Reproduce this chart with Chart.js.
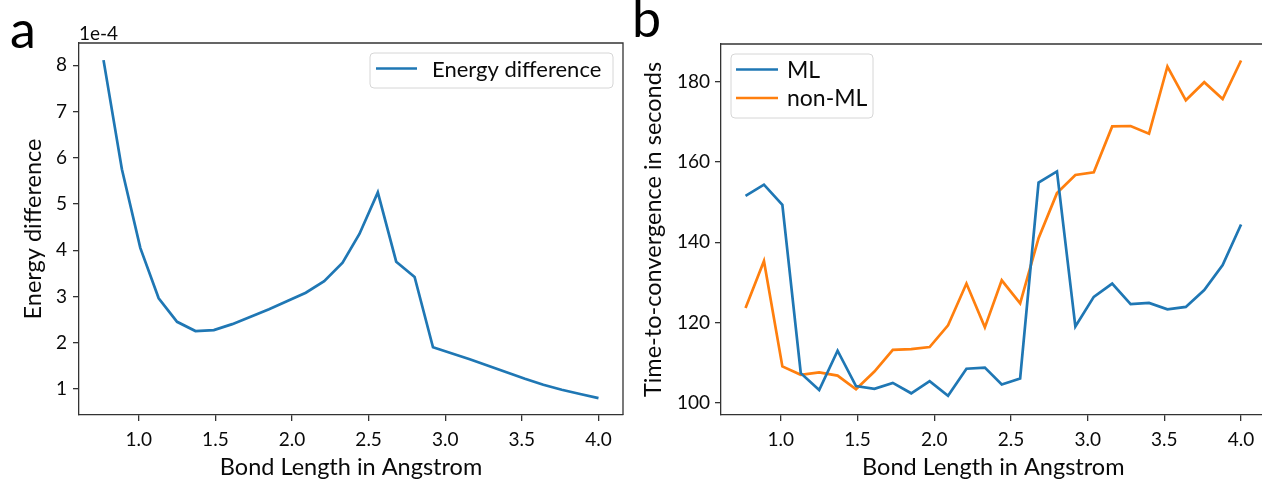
<!DOCTYPE html>
<html>
<head>
<meta charset="utf-8">
<script src="https://cdn.jsdelivr.net/npm/chart.js@4.4.1/dist/chart.umd.min.js"></script>
<style>
    body { margin: 0; width: 1262px; height: 482px; overflow: hidden; background: #fff; position: relative; }
    canvas { position: absolute; top: 0; }
    #chartA { left: 0; }
    #chartB { left: 630px; }
</style>
</head>
<body>
<canvas id="chartA" width="630" height="482"></canvas>
<canvas id="chartB" width="640" height="482"></canvas>
<script>
// bond lengths (Angstrom), shared by both panels
const bondLength = [0.77, 0.89, 1.01, 1.13, 1.25, 1.37, 1.49, 1.61, 1.73, 1.85, 1.97, 2.09, 2.21, 2.33,
    2.44, 2.56, 2.68, 2.80, 2.92, 3.04, 3.16, 3.28, 3.40, 3.52, 3.64, 3.76, 3.88, 4.00];

// panel a: energy difference, in units of 1e-4
const energyDiff = [8.11, 5.75, 4.05, 2.96, 2.45, 2.25, 2.27, 2.40, 2.56, 2.72, 2.90, 3.08, 3.33, 3.73,
    4.35, 5.25, 3.75, 3.42, 1.90, 1.77, 1.64, 1.50, 1.36, 1.22, 1.09, 0.98, 0.89, 0.80];

// panel b: time to convergence in seconds
const mlTime = [151.5, 154.3, 149.3, 107.4, 103.2, 113.0, 104.2, 103.5, 105.0, 102.4, 105.4, 101.8, 108.5, 108.8,
    104.6, 106.1, 154.8, 157.6, 119.0, 126.4, 129.7, 124.6, 124.9, 123.3, 123.9, 128.1, 134.3, 144.4];
const nonMlTime = [123.6, 135.3, 109.1, 107.0, 107.6, 106.8, 103.4, 107.8, 113.2, 113.4, 113.9, 119.3, 129.7, 118.8,
    130.5, 124.8, 141.0, 152.2, 156.7, 157.4, 168.8, 168.9, 167.0, 183.7, 175.3, 179.8, 175.6, 185.2];

const xTicks = [1.0, 1.5, 2.0, 2.5, 3.0, 3.5, 4.0];
const energyTicks = [1, 2, 3, 4, 5, 6, 7, 8];
const timeTicks = [100, 120, 140, 160, 180];

const BLUE = '#1f77b4';
const ORANGE = '#ff7f0e';
const SPINE = '#333333';
const TEXT = '#0a0a0a';
const FONT = 'Lato';

function toPoints(values) {
    return bondLength.map(function(x, i) { return {x: x, y: values[i]}; });
}

function fixedTicks(list) {
    return function(scale) {
        scale.ticks = list.map(function(v) { return {value: v}; });
    };
}

function xScale() {
    return {
        type: 'linear',
        min: 0.61,
        max: 4.16,
        afterBuildTicks: fixedTicks(xTicks),
        afterFit: function(scale) { scale.height = 67; },
        grid: { drawOnChartArea: false, drawTicks: true, tickLength: 6, color: SPINE, lineWidth: 1.3 },
        border: { display: true, color: SPINE, width: 1.3 },
        ticks: {
            color: TEXT, padding: 7, maxRotation: 0,
            font: { family: FONT, size: 19 },
            callback: function(v) { return v.toFixed(1); }
        },
        title: {
            display: true, text: 'Bond Length in Angstrom', color: TEXT,
            font: { family: FONT, size: 23.5 }, padding: { top: 0, bottom: 0 }
        }
    };
}

// spines on top/right, legend box in the axes, panel letter
function decorPlugin(cfg) {
    return {
        id: 'decor',
        afterDraw: function(chart) {
            let ctx = chart.ctx;
            let a = chart.chartArea;
            ctx.save();
            ctx.strokeStyle = SPINE;
            ctx.lineWidth = 1.3;
            ctx.beginPath();
            ctx.moveTo(a.left, a.top);
            ctx.lineTo(a.right, a.top);
            ctx.lineTo(a.right, a.bottom);
            ctx.stroke();

            // legend
            let b = cfg.legendBox;
            ctx.fillStyle = 'rgba(255,255,255,0.85)';
            ctx.strokeStyle = '#d6d6d6';
            ctx.lineWidth = 1;
            ctx.beginPath();
            ctx.roundRect(b[0], b[1], b[2] - b[0], b[3] - b[1], 4);
            ctx.fill();
            ctx.stroke();
            ctx.font = cfg.legendFont + 'px ' + FONT;
            ctx.textBaseline = 'alphabetic';
            cfg.entries.forEach(function(e) {
                ctx.strokeStyle = e.color;
                ctx.lineWidth = 2.7;
                ctx.beginPath();
                ctx.moveTo(e.x0, e.y);
                ctx.lineTo(e.x1, e.y);
                ctx.stroke();
                ctx.fillStyle = TEXT;
                ctx.fillText(e.label, e.tx, e.ty);
            });

            // panel letter
            ctx.fillStyle = '#000';
            ctx.font = '52px ' + FONT;
            ctx.fillText(cfg.letter, cfg.letterX, cfg.letterY);

            if (cfg.offsetText) {
                ctx.font = '19px ' + FONT;
                ctx.fillStyle = TEXT;
                ctx.fillText(cfg.offsetText, a.left, 40);
            }
            ctx.restore();
        }
    };
}

let chartA = new Chart(document.getElementById('chartA'), {
    type: 'line',
    data: {
        datasets: [{
            label: 'Energy difference',
            data: toPoints(energyDiff),
            borderColor: BLUE,
            borderWidth: 2.7,
            pointRadius: 0,
            tension: 0
        }]
    },
    options: {
        responsive: false,
        animation: false,
        devicePixelRatio: 1,
        layout: { padding: { top: 43, right: 7, left: 0, bottom: 0 } },
        plugins: { legend: { display: false }, tooltip: { enabled: false } },
        scales: {
            x: xScale(),
            y: {
                type: 'linear',
                min: 0.435,
                max: 8.48,
                afterBuildTicks: fixedTicks(energyTicks),
                afterFit: function(scale) { scale.width = 79; },
                grid: { drawOnChartArea: false, drawTicks: true, tickLength: 6, color: SPINE, lineWidth: 1.3 },
                border: { display: true, color: SPINE, width: 1.3 },
                ticks: { color: TEXT, padding: 6, font: { family: FONT, size: 19 } },
                title: {
                    display: true, text: 'Energy difference', color: TEXT,
                    font: { family: FONT, size: 23.5 }, padding: { top: 19, bottom: 0 }
                }
            }
        }
    },
    plugins: [decorPlugin({
        letter: 'a', letterX: 10, letterY: 48,
        offsetText: '1e-4',
        legendBox: [370, 53, 613, 88],
        legendFont: 22,
        entries: [{ color: BLUE, label: 'Energy difference', x0: 376, x1: 417, y: 68.5, tx: 432, ty: 77 }]
    })]
});

let chartB = new Chart(document.getElementById('chartB'), {
    type: 'line',
    data: {
        datasets: [{
            label: 'ML',
            data: toPoints(mlTime),
            borderColor: BLUE,
            borderWidth: 2.7,
            pointRadius: 0,
            tension: 0
        }, {
            label: 'non-ML',
            data: toPoints(nonMlTime),
            borderColor: ORANGE,
            borderWidth: 2.7,
            pointRadius: 0,
            tension: 0
        }]
    },
    options: {
        responsive: false,
        animation: false,
        devicePixelRatio: 1,
        layout: { padding: { top: 44, right: 4.4, left: 0, bottom: 0 } },
        plugins: { legend: { display: false }, tooltip: { enabled: false } },
        scales: {
            x: xScale(),
            y: {
                type: 'linear',
                min: 97.0,
                max: 189.3,
                afterBuildTicks: fixedTicks(timeTicks),
                afterFit: function(scale) { scale.width = 91; },
                grid: { drawOnChartArea: false, drawTicks: true, tickLength: 6, color: SPINE, lineWidth: 1.3 },
                border: { display: true, color: SPINE, width: 1.3 },
                ticks: { color: TEXT, padding: 5, font: { family: FONT, size: 19 } },
                title: {
                    display: true, text: 'Time-to-convergence in seconds', color: TEXT,
                    font: { family: FONT, size: 23.5 }, padding: { top: 9, bottom: 0 }
                }
            }
        }
    },
    plugins: [decorPlugin({
        letter: 'b', letterX: 2, letterY: 37,
        legendBox: [101, 54, 243, 118],
        legendFont: 23,
        entries: [
            { color: BLUE, label: 'ML', x0: 106, x1: 148, y: 69.5, tx: 157, ty: 77.5 },
            { color: ORANGE, label: 'non-ML', x0: 106, x1: 148, y: 98, tx: 157, ty: 106 }
        ]
    })]
});
</script>
</body>
</html>
